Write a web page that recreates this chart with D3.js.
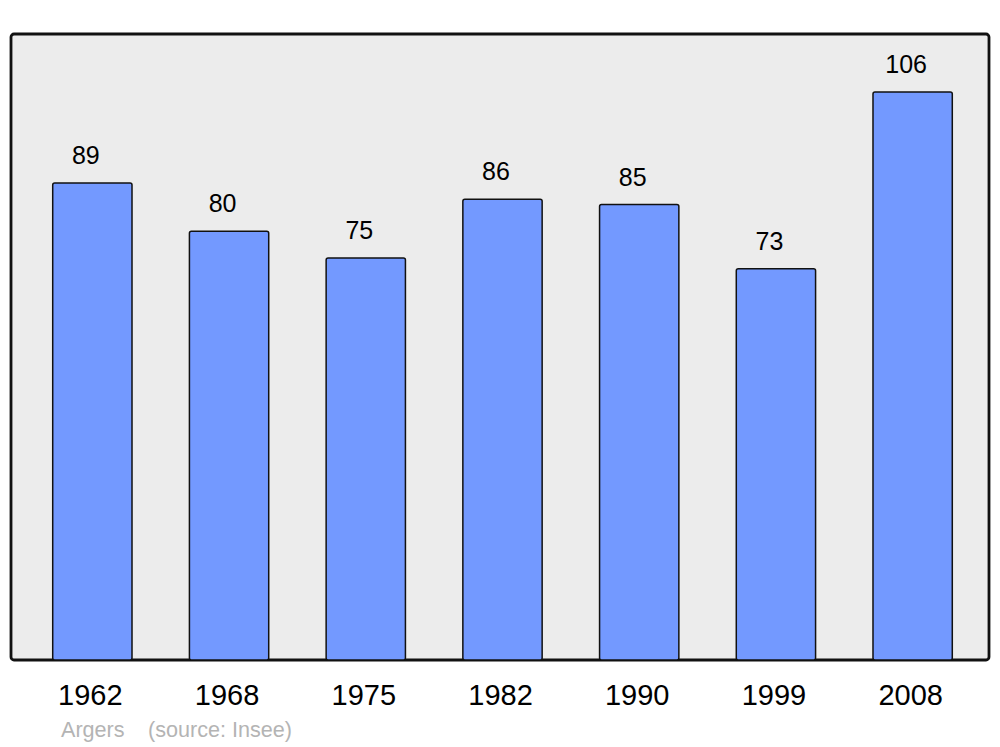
<!DOCTYPE html>
<html>
<head>
<meta charset="utf-8">
<script src="https://cdn.jsdelivr.net/npm/d3@7"></script>
<style>
  body { margin: 0; background: #fff; }
  text { font-family: "Liberation Sans", Arial, sans-serif; }
</style>
</head>
<body>
<div class="chart"></div>
<script>
const width = 1000
const height = 747

// data
const years = ["1962", "1968", "1975", "1982", "1990", "1999", "2008"]
const population = [89, 80, 75, 86, 85, 73, 106]
const commune = "Argers"
const source = "(source: Insee)"

const svg = d3.select('.chart')
    .append('svg')
    .attr('width', width)
    .attr('height', height)

// panel
const panel = { left: 11, top: 34, right: 989, bottom: 660 }

svg.append("rect")
    .attr("x", panel.left)
    .attr("y", panel.top)
    .attr("width", panel.right - panel.left)
    .attr("height", panel.bottom - panel.top)
    .attr("rx", 3)
    .attr("fill", "#ececec")
    .attr("stroke", "#111")
    .attr("stroke-width", 2.8)

const x = d3.scaleBand()
    .domain(years)
    .range([24, 981])
    .paddingInner(0.42)
    .paddingOuter(0.21)

const y = d3.scaleLinear()
    .domain([0, 106])
    .range([panel.bottom, 92])

const rows = years.map((yr, i) => ({ year: yr, value: population[i] }))

// bars
svg.append("g")
    .selectAll("rect")
    .data(rows)
    .join("rect")
        .attr("x", d => x(d.year))
        .attr("y", d => y(d.value))
        .attr("width", x.bandwidth())
        .attr("height", d => panel.bottom - y(d.value))
        .attr("rx", 2)
        .attr("fill", "#7399ff")
        .attr("stroke", "#111")
        .attr("stroke-width", 1.5)

// value labels
svg.append("g")
    .selectAll("text")
    .data(rows)
    .join("text")
        .attr("x", d => x(d.year) + x.bandwidth() / 2 - 6.5)
        .attr("y", d => y(d.value) - 19)
        .attr("text-anchor", "middle")
        .attr("font-size", "25px")
        .attr("fill", "#000")
        .text(d => d.value)

// year labels (axis without lines)
const xAxis = svg.append("g")
    .attr("transform", `translate(0, ${panel.bottom})`)
    .call(d3.axisBottom(x).tickSize(0).tickPadding(0))

xAxis.select(".domain").remove()
xAxis.selectAll("text")
    .attr("dy", null)
    .attr("y", 45)
    .attr("dx", -2)
    .attr("font-size", "29px")
    .attr("font-family", '"Liberation Sans", Arial, sans-serif')
    .attr("fill", "#000")

// footer
svg.append("text")
    .attr("x", 61)
    .attr("y", 737)
    .attr("font-size", "21.6px")
    .attr("fill", "#b4b4b4")
    .text(commune)

svg.append("text")
    .attr("x", 148)
    .attr("y", 737)
    .attr("font-size", "21.6px")
    .attr("fill", "#b4b4b4")
    .text(source)
</script>
</body>
</html>
